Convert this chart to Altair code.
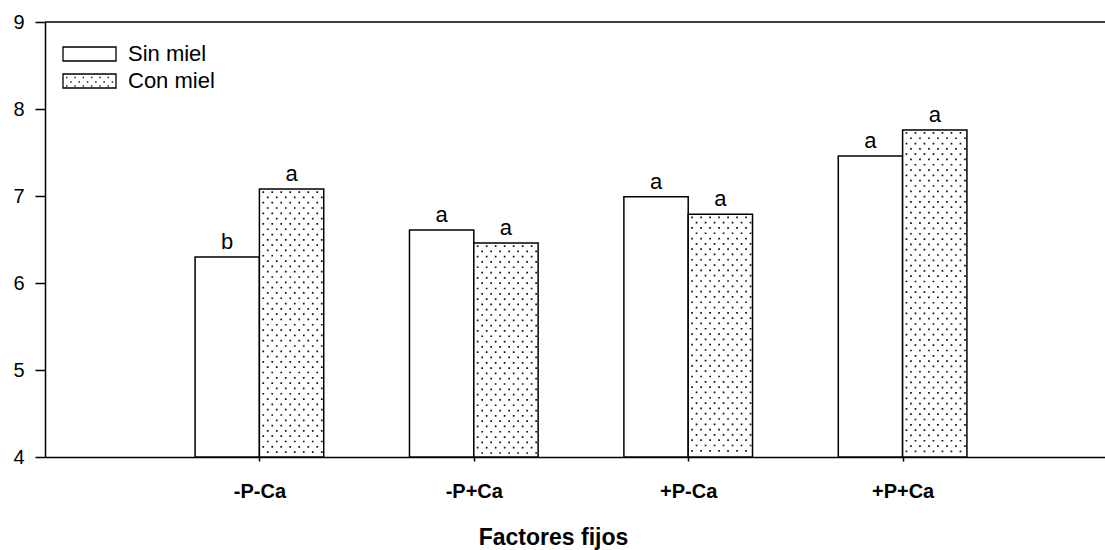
import json
import altair as alt
import pandas as pd

categories = ["-P-Ca", "-P+Ca", "+P-Ca", "+P+Ca"]
series = ["Sin miel", "Con miel"]
sin_miel = [6.30, 6.61, 6.99, 7.46]
con_miel = [7.08, 6.46, 6.79, 7.76]
sin_letters = ["b", "a", "a", "a"]
con_letters = ["a", "a", "a", "a"]
y_ticks = [4, 5, 6, 7, 8, 9]

rows = []
for i, c in enumerate(categories):
    rows.append(dict(cat=c, idx=i + 1, serie=series[0], value=sin_miel[i], letter=sin_letters[i], side=-1))
    rows.append(dict(cat=c, idx=i + 1, serie=series[1], value=con_miel[i], letter=con_letters[i], side=1))
df = pd.DataFrame(rows)

XMAX = 4.944
HALF = 0.30
PX = 1 / 214.4  # one pixel in x data units
ROW = 0.061     # dot row spacing in y units

xscale = alt.Scale(domain=[0, XMAX], nice=False, zero=False)
yscale = alt.Scale(domain=[4, 9], nice=False, zero=False)

label_expr = json.dumps(categories) + "[datum.value - 1]"

base = alt.Chart(df).transform_calculate(
    x0=f"datum.side < 0 ? datum.idx - {HALF} : datum.idx",
    x1=f"datum.side < 0 ? datum.idx : datum.idx + {HALF}",
).transform_calculate(
    xm="(datum.x0 + datum.x1) / 2"
)

bars = base.mark_rect(fill="white", stroke="black", strokeWidth=1.5).encode(
    x=alt.X("x0:Q", scale=xscale,
            axis=alt.Axis(values=[1, 2, 3, 4], labelExpr=label_expr, tickSize=4,
                          labelPadding=20, labelFontSize=20, labelFontWeight="bold",
                          labelColor="black", domainColor="black", domainWidth=1.5,
                          tickColor="black", tickWidth=1.5, grid=False,
                          title="Factores fijos", titleFontSize=23, titleFontWeight="bold",
                          titleColor="black", titleX=508, titleY=80, titleAlign="center",
                          titleBaseline="middle")),
    x2="x1:Q",
    y=alt.Y("value:Q", scale=yscale,
            axis=alt.Axis(values=y_ticks, format="d", tickSize=10, labelPadding=11, labelFontSize=20,
                          labelColor="black", domainColor="black", domainWidth=1.5,
                          tickColor="black", tickWidth=1.5, grid=False, title=None)),
    y2=alt.datum(4),
)

dots_base = base.transform_filter("datum.side > 0").transform_calculate(
    k=f"sequence(0, floor((datum.value - 4 - 0.035) / {ROW}) + 1)"
).transform_flatten(["k"]).transform_calculate(
    yy=f"datum.value - 0.035 - datum.k * {ROW}",
    par="datum.k % 2",
    xs=f"datum.x0 + {3 * PX}",
    xe=f"datum.x1 - {1 * PX}",
).transform_filter("datum.yy > 4.02")

dots_a = dots_base.transform_filter("datum.par == 0").mark_rule(
    color="#111", strokeWidth=1.7, strokeDash=[1.7, 7.3]
).encode(x=alt.X("xs:Q", scale=xscale), x2="xe:Q", y=alt.Y("yy:Q", scale=yscale))

dots_b = dots_base.transform_filter("datum.par == 1").mark_rule(
    color="#111", strokeWidth=1.7, strokeDash=[1.7, 7.3], strokeDashOffset=4.5
).encode(x=alt.X("xs:Q", scale=xscale), x2="xe:Q", y=alt.Y("yy:Q", scale=yscale))

letters = base.mark_text(baseline="bottom", dy=-3, fontSize=22, color="black").encode(
    x=alt.X("xm:Q", scale=xscale), y=alt.Y("value:Q", scale=yscale), text="letter:N"
)

top_line = alt.Chart(pd.DataFrame({"v": [9]})).mark_rule(color="black", strokeWidth=1.5).encode(
    y=alt.Y("v:Q", scale=yscale)
)

# legend (drawn manually)
leg_df = pd.DataFrame({"serie": series})
legend_layers = []
box_tops = [25, 52]
for s, top in zip(series, box_tops):
    d = leg_df[leg_df.serie == s]
    legend_layers.append(
        alt.Chart(d).mark_rect(fill="white", stroke="black", strokeWidth=1.3).encode(
            x=alt.value(18), x2=alt.value(71), y=alt.value(top), y2=alt.value(top + 14)
        )
    )
    legend_layers.append(
        alt.Chart(d).mark_text(align="left", baseline="middle", fontSize=22, color="black").encode(
            x=alt.value(83), y=alt.value(top + 7), text="serie:N"
        )
    )
    if s == series[1]:
        for j, ry in enumerate([top + 3.5, top + 8, top + 12]):
            legend_layers.append(
                alt.Chart(d).mark_rule(color="#222", strokeWidth=1.4, strokeDash=[1.5, 6.8],
                                       strokeDashOffset=(4.1 if j % 2 else 0)).encode(
                    x=alt.value(21), x2=alt.value(70), y=alt.value(ry)
                )
            )

chart = alt.layer(bars, dots_a, dots_b, letters, top_line, *legend_layers).properties(
    width=1060, height=435,
    autosize=alt.AutoSizeParams(type="none"),
    padding={"left": 45, "top": 22, "right": 0, "bottom": 93},
).configure(font="Liberation Sans").configure_view(stroke=None)

chart.save("out.html", embed_options={"renderer": "svg", "actions": False})
